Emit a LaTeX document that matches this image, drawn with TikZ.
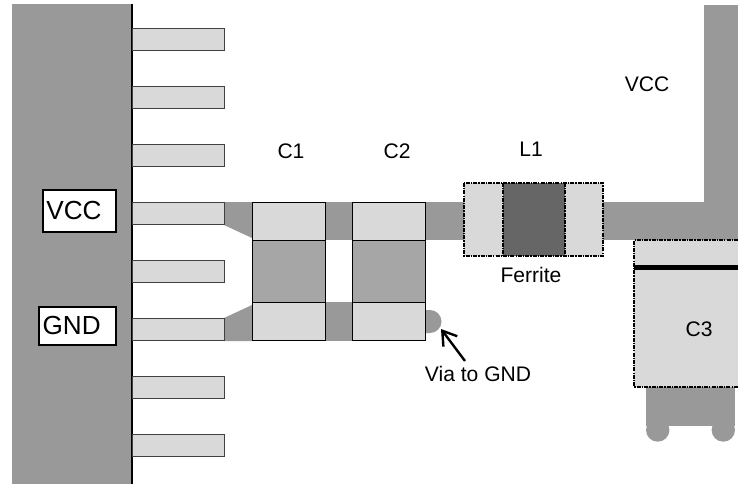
\documentclass[tikz,border=0pt]{standalone}
\usepackage{fontspec}
\usetikzlibrary{arrows.meta}
\setmainfont{Liberation Sans}
\definecolor{trace}{HTML}{999999}
\definecolor{pad}{HTML}{D9D9D9}
\definecolor{body}{HTML}{A6A6A6}
\definecolor{ferr}{HTML}{666666}
\tikzset{
  every node/.style={outer sep=0pt},
  pinbox/.style={draw=black!75,fill=pad,line width=0.7pt,minimum width=69pt,minimum height=17pt,inner sep=0pt,anchor=north west},
  padbox/.style={draw=black,fill=pad,line width=0.75pt,inner sep=0pt,minimum width=55.25pt,minimum height=28.5pt,anchor=north west},
  capbody/.style={draw=black,fill=body,line width=0.75pt,inner sep=0pt,minimum width=55.25pt,minimum height=46.5pt,anchor=north west},
  lab/.style={font=\fontsize{15.8}{18}\selectfont,inner sep=0pt},
  biglab/.style={draw=black,fill=white,line width=1.5pt,font=\fontsize{19.6}{22}\selectfont,inner sep=0pt},
  dotted box/.style={draw=black,line width=1pt,dash pattern=on 3pt off 0.8pt on 1pt off 0.8pt},
  tr/.style={fill=trace,draw=none}
}
\begin{document}
\begin{tikzpicture}[x=0.75pt,y=-0.75pt]
\useasboundingbox (0,0) rectangle (738,485);
% IC body
\fill[trace] (12,4) rectangle (131,484);
\draw[black,line width=1.6pt] (132,4) -- (132,484);
% traces
\fill[tr] (224,202) -- (252,202) -- (252,238) -- (224,225) -- cycle;
\fill[tr] (224,318) -- (252,305) -- (252,341) -- (224,341) -- cycle;
\fill[tr] (325,202) rectangle (352,240);
\fill[tr] (325,302) rectangle (352,341);
\fill[tr] (426,202) rectangle (464,240);
\fill[tr] (603,202) rectangle (738,240);
\fill[tr] (704,5) rectangle (738,240);
\fill[tr] (426,310) -- (430,310) arc[start angle=-90,end angle=90,radius=11.5] -- (426,333) -- cycle;
\fill[tr] (646,387) rectangle (735,426);
\fill[tr] (657.7,430) circle[radius=11.7];
\fill[tr] (723.3,430) circle[radius=11.7];
% pins
\node[pinbox] (p1) at (132.5,28) {};
\node[pinbox] (p2) at (132.5,86) {};
\node[pinbox] (p3) at (132.5,144) {};
\node[pinbox] (p4) at (132.5,202) {};
\node[pinbox] (p5) at (132.5,260) {};
\node[pinbox] (p6) at (132.5,318) {};
\node[pinbox] (p7) at (132.5,376) {};
\node[pinbox] (p8) at (132.5,434) {};
% IC labels
\node[biglab,minimum width=55pt,minimum height=31.5pt] (vccbox) at (79.5,211) {\raisebox{1pt}{VCC}\kern8.2pt};
\node[biglab,minimum width=58pt,minimum height=28.5pt] (gndbox) at (77.5,325.5) {GND\kern8.7pt};
% C1, C2
\node[capbody] (c1b) at (252,240) {};
\node[capbody] (c2b) at (352,240) {};
\node[padbox] (c1t) at (252,202) {};
\node[padbox] (c1d) at (252,302.5) {};
\node[padbox] (c2t) at (352,202) {};
\node[padbox] (c2d) at (352,302.5) {};
% Ferrite
\fill[pad] (464,183) rectangle (603,256);
\fill[ferr] (503,183) rectangle (565,256);
\draw[dotted box] (464,183) rectangle (603,256);
\draw[dotted box] (503,183) -- (503,256);
\draw[dotted box] (565,183) -- (565,256);
% C3
\fill[pad] (634,240) rectangle (738,387);
\draw[dotted box] (738,240) -- (634,240) -- (634,387) -- (738,387);
\draw[black,line width=3.6pt] (634,267.5) -- (738,267.5);
% labels
\node[lab] (tc1) at (291,151) {C1};
\node[lab] (tc2) at (397,151) {C2};
\node[lab] (tl1) at (531,149) {L1};
\node[lab] (tfe) at (531,275) {Ferrite};
\node[lab] (tvc) at (647,84) {VCC};
\node[lab] (tc3) at (699,329) {C3};
\node[lab] (via) at (478,374) {Via to GND};
\coordinate (viaend) at (441,329);
\coordinate (viastart) at (465,361);
\draw[-{Straight Barb[length=10pt,width=13pt]},black,line width=1.8pt] (viastart) -- (viaend);
\end{tikzpicture}
\end{document}
